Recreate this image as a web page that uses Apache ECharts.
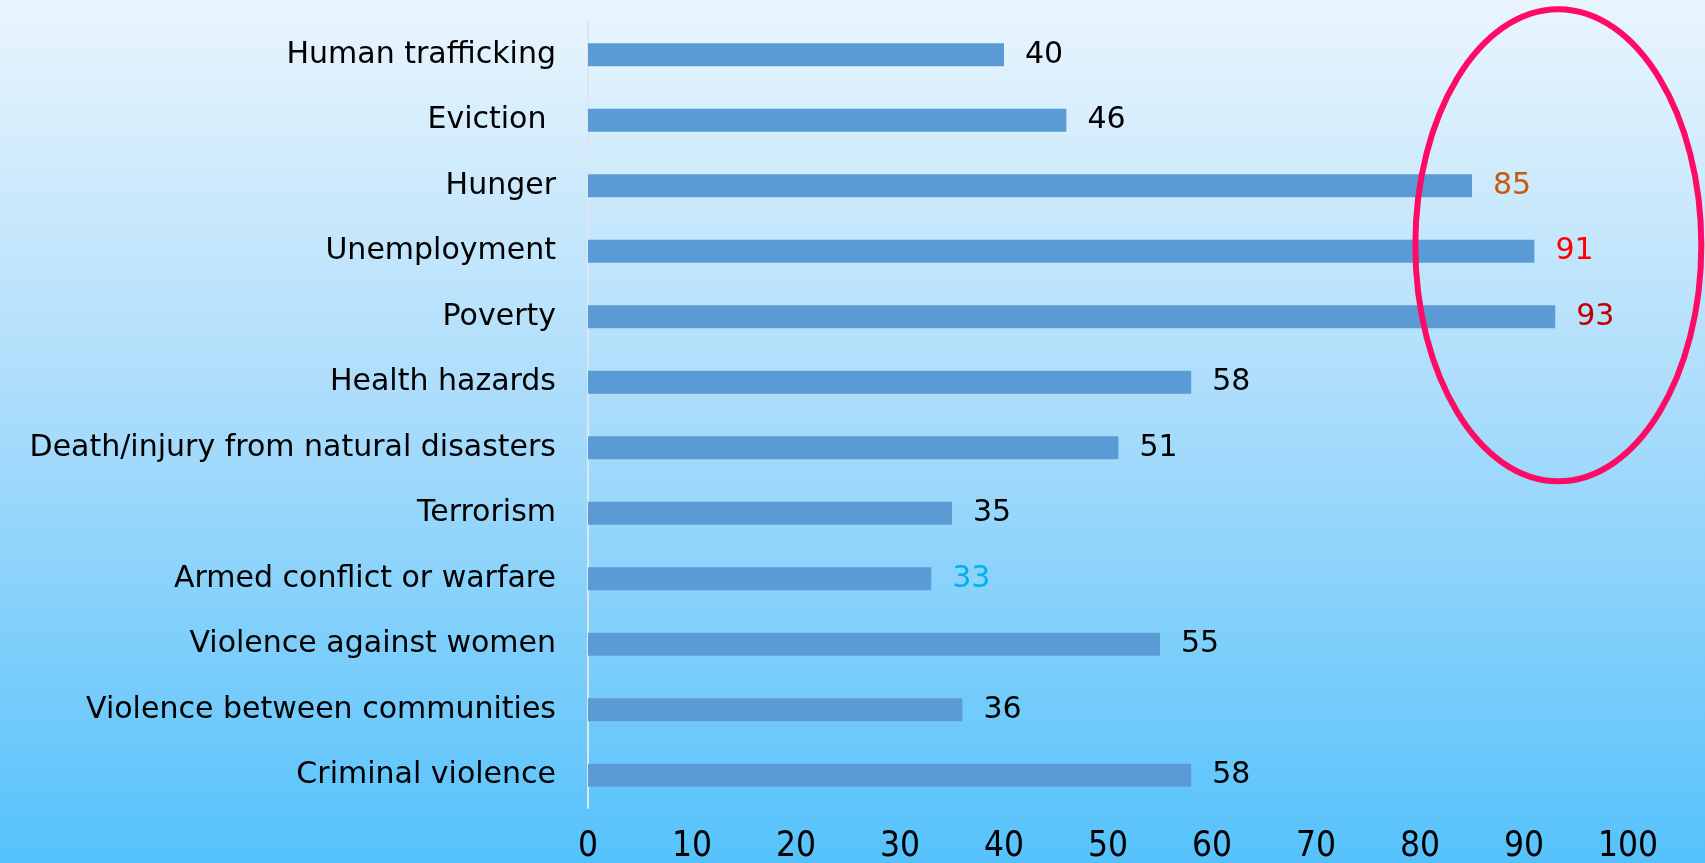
<!DOCTYPE html>
<html>
<head>
<meta charset="utf-8">
<script src="https://cdn.jsdelivr.net/npm/echarts@6/dist/echarts.min.js"></script>
<style>
  html, body { margin: 0; padding: 0; }
  #chart { width: 1705px; height: 863px; }
</style>
</head>
<body>
<div id="chart"></div>
<script>
// categories, top to bottom
var categories = [
  "Human trafficking", "Eviction ", "Hunger", "Unemployment", "Poverty",
  "Health hazards", "Death/injury from natural disasters", "Terrorism",
  "Armed conflict or warfare", "Violence against women",
  "Violence between communities", "Criminal violence"
];
var values = [40, 46, 85, 91, 93, 58, 51, 35, 33, 55, 36, 58];
// colour of each value label
var labelColors = ["#000", "#000", "#C55A11", "#FF0000", "#C00000", "#000",
  "#000", "#000", "#00B0F0", "#000", "#000", "#000"];
var xTicks = [0, 10, 20, 30, 40, 50, 60, 70, 80, 90, 100];

var font = "DejaVu Sans";
var narrowFont = "'DejaVu Sans Condensed', 'Liberation Sans Narrow', 'DejaVu Sans'";
var chart = echarts.init(document.getElementById("chart"));

var seriesData = values.map(function (v, i) {
  return { value: v, label: { color: labelColors[i] } };
});

var option = {
  backgroundColor: {
    type: "linear", x: 0, y: 0, x2: 0, y2: 1,
    colorStops: [
      { offset: 0, color: "#eaf5fd" },
      { offset: 0.5, color: "#a6dbfb" },
      { offset: 1, color: "#55c2fb" }
    ]
  },
  animation: false,
  grid: {
    left: 588, right: 77, top: 22, bottom: 55,
    containLabel: false, outerBoundsMode: "none"
  },
  xAxis: {
    type: "value",
    min: xTicks[0],
    max: xTicks[xTicks.length - 1],
    interval: 10,
    axisLine: { show: false },
    axisTick: { show: false },
    splitLine: { show: false },
    axisLabel: { color: "#000", fontSize: 35, fontFamily: narrowFont, margin: 21 }
  },
  yAxis: {
    type: "category",
    inverse: true,
    data: categories,
    axisLine: { show: true, lineStyle: { color: "#dde6ee", width: 2 } },
    axisTick: { show: false },
    axisLabel: { color: "#000", fontSize: 30, fontFamily: font, margin: 32 }
  },
  series: [{
    type: "bar",
    data: seriesData,
    barWidth: 23,
    itemStyle: { color: "#5B9BD5" },
    label: {
      show: true, position: "right", distance: 21,
      fontSize: 30, fontFamily: font
    }
  }]
};
chart.setOption(option);

// ellipse annotation around the three highest bars
var c = chart.convertToPixel({ xAxisIndex: 0, yAxisIndex: 0 }, [93.3, "Unemployment"]);
chart.setOption({
  graphic: [{
    type: "ellipse",
    shape: { cx: c[0], cy: c[1] - 6, rx: 143, ry: 236 },
    style: { fill: "none", stroke: "#ff0a64", lineWidth: 6 },
    z: 100
  }]
});
</script>
</body>
</html>
